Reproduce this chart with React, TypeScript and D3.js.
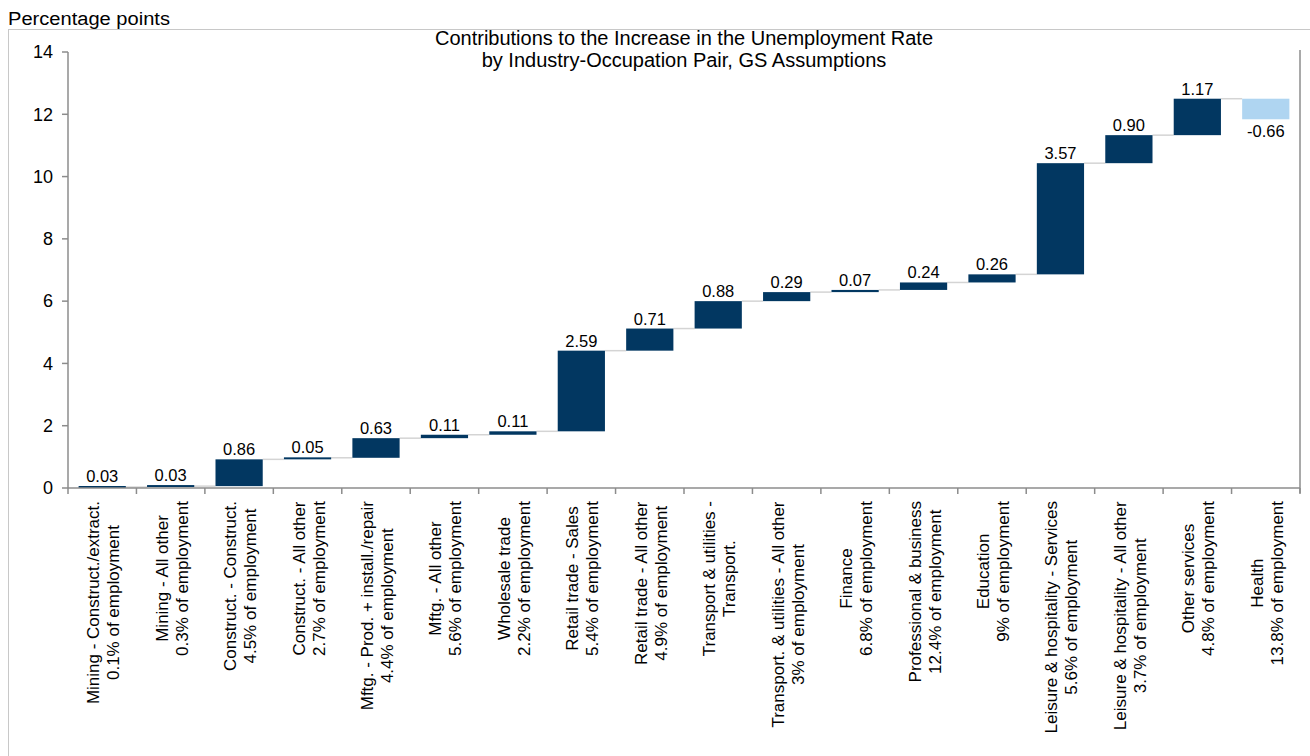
import React from "react";
import * as d3 from "d3";

const categories: string[] = [
  "Mining - Construct./extract.",
  "Mining - All other",
  "Construct. - Construct.",
  "Construct. - All other",
  "Mftg. - Prod. + install./repair",
  "Mftg. - All other",
  "Wholesale trade",
  "Retail trade - Sales",
  "Retail trade - All other",
  "Transport & utilities -\nTransport.",
  "Transport. & utilities - All other",
  "Finance",
  "Professional & business",
  "Education",
  "Leisure & hospitality - Services",
  "Leisure & hospitality - All other",
  "Other services",
  "Health",
];

const employmentShares: (string | null)[] = [
  "0.1", "0.3", "4.5", "2.7", "4.4", "5.6", "2.2", "5.4", "4.9", null,
  "3", "6.8", "12.4", "9", "5.6", "3.7", "4.8", "13.8",
];

const contributions: number[] = [
  0.03, 0.03, 0.86, 0.05, 0.63, 0.11, 0.11, 2.59, 0.71, 0.88, 0.29, 0.07,
  0.24, 0.26, 3.57, 0.9, 1.17, -0.66,
];

const yTicks: number[] = [0, 2, 4, 6, 8, 10, 12, 14];

const titleLines = [
  "Contributions to the Increase in the Unemployment Rate",
  "by Industry-Occupation Pair, GS Assumptions",
];

const FONT = "'Liberation Sans', Arial, sans-serif";
const DARK = "#023761";
const LIGHT = "#afd5f1";

let ctx: CanvasRenderingContext2D | null = null;
function measure(text: string, size: number): number {
  if (!ctx) {
    const c = document.createElement("canvas");
    ctx = c.getContext("2d");
  }
  if (!ctx) return text.length * size * 0.5;
  ctx.font = `${size}px 'Liberation Sans', Arial, sans-serif`;
  return ctx.measureText(text).width;
}

export default function App() {
  const W = 1310;
  const H = 756;
  const left = 68;
  const right = 1300;
  const top = 52;
  const bottom = 488;

  const x = d3.scaleBand<number>().domain(d3.range(categories.length)).range([left, right]).padding(0);
  const y = d3.scaleLinear().domain([0, 14]).range([bottom, top]);
  const barW = x.bandwidth() * 0.69;

  let cum = 0;
  const bars = contributions.map((v, i) => {
    const start = cum;
    cum += v;
    return { i, v, start, end: cum };
  });

  const labelSize = 17;
  const lineGap = 20;

  return (
    <svg
      width={W}
      height={H}
      style={{ position: "fixed", left: 0, top: 0, background: "#fff" }}
      fontFamily={FONT}
    >
      <rect x={0} y={0} width={W} height={H} fill="#fff" />
      {/* frame */}
      <line x1={8} y1={29.5} x2={W} y2={29.5} stroke="#c8c8c8" strokeWidth={1} />
      <line x1={8.5} y1={29.5} x2={8.5} y2={H} stroke="#c8c8c8" strokeWidth={1} />
      <text x={8} y={25} fontSize={18} fill="#000" textLength={162} lengthAdjust="spacingAndGlyphs">
        Percentage points
      </text>

      {/* title */}
      {titleLines.map((t, k) => (
        <text key={k} x={684} y={45 + k * 22} fontSize={20} textAnchor="middle" fill="#000">
          {t}
        </text>
      ))}

      {/* y axis */}
      <line x1={left} y1={top} x2={left} y2={bottom} stroke="#8c8c8c" strokeWidth={1.5} />
      {yTicks.map((t) => (
        <g key={t}>
          <line x1={left - 6} x2={left} y1={y(t)} y2={y(t)} stroke="#8c8c8c" strokeWidth={1.5} />
          <text x={53} y={y(t)} dy="0.35em" fontSize={18} textAnchor="end" fill="#000">
            {t}
          </text>
        </g>
      ))}
      {/* right axis */}
      <line x1={right} y1={50} x2={right} y2={bottom + 5} stroke="#8c8c8c" strokeWidth={1.5} />

      {/* connectors */}
      {bars.slice(0, -1).map((b) => (
        <line
          key={"c" + b.i}
          x1={(x(b.i) as number) + x.bandwidth() / 2 + barW / 2}
          x2={(x(b.i + 1) as number) + x.bandwidth() / 2 - barW / 2}
          y1={y(b.end)}
          y2={y(b.end)}
          stroke="#d4d4d4"
          strokeWidth={1.5}
        />
      ))}

      {/* bars */}
      {bars.map((b) => {
        const cx = (x(b.i) as number) + x.bandwidth() / 2;
        const y0 = y(Math.max(b.start, b.end));
        const y1 = y(Math.min(b.start, b.end));
        const h = Math.max(2, y1 - y0);
        const neg = b.v < 0;
        return (
          <g key={"b" + b.i}>
            <rect x={cx - barW / 2} y={neg ? y0 : y1 - h} width={barW} height={h} fill={neg ? LIGHT : DARK} />
            <text
              x={cx}
              y={neg ? y1 + 18 : y1 - h - 4}
              fontSize={16.5}
              textAnchor="middle"
              fill="#000"
            >
              {b.v.toFixed(2)}
            </text>
          </g>
        );
      })}

      {/* x axis */}
      <line x1={left} y1={bottom} x2={right} y2={bottom} stroke="#8c8c8c" strokeWidth={1.5} />
      {d3.range(categories.length + 1).map((k) => {
        const xx = left + k * x.bandwidth();
        return <line key={"t" + k} x1={xx} x2={xx} y1={bottom} y2={bottom + 6} stroke="#8c8c8c" strokeWidth={1.5} />;
      })}

      {/* category labels */}
      {categories.map((c, i) => {
        const lines = c.split("\n");
        const share = employmentShares[i];
        if (share !== null) lines.push(`${share}% of employment`);
        const maxW = d3.max(lines, (l) => measure(l, labelSize)) || 0;
        const cx = (x(i) as number) + x.bandwidth() / 2;
        const cy = 501 + maxW / 2;
        const n = lines.length;
        return (
          <g key={"l" + i}>
            {lines.map((l, k) => {
              const bx = cx + (k - (n - 1) / 2) * lineGap + 7;
              return (
                <text
                  key={k}
                  x={0}
                  y={0}
                  fontSize={labelSize}
                  textAnchor="middle"
                  fill="#000"
                  transform={`translate(${bx},${cy}) rotate(-90)`}
                >
                  {l}
                </text>
              );
            })}
          </g>
        );
      })}
    </svg>
  );
}
